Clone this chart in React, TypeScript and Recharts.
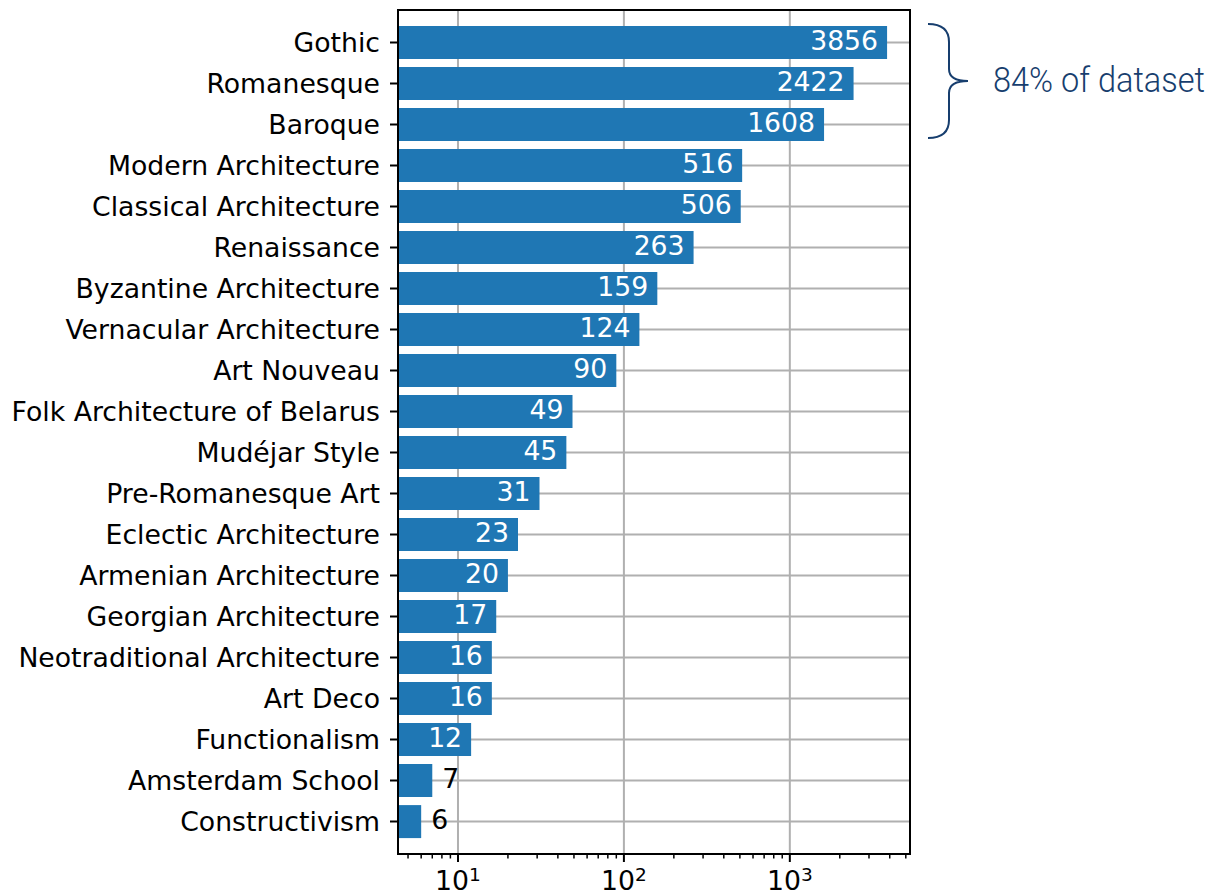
import React from 'react';
import { BarChart, Bar, XAxis, YAxis, CartesianGrid, LabelList } from 'recharts';

const styles = [
  'Gothic',
  'Romanesque',
  'Baroque',
  'Modern Architecture',
  'Classical Architecture',
  'Renaissance',
  'Byzantine Architecture',
  'Vernacular Architecture',
  'Art Nouveau',
  'Folk Architecture of Belarus',
  'Mudéjar Style',
  'Pre-Romanesque Art',
  'Eclectic Architecture',
  'Armenian Architecture',
  'Georgian Architecture',
  'Neotraditional Architecture',
  'Art Deco',
  'Functionalism',
  'Amsterdam School',
  'Constructivism',
];
const counts = [3856, 2422, 1608, 516, 506, 263, 159, 124, 90, 49, 45, 31, 23, 20, 17, 16, 16, 12, 7, 6];

const majorTicks = [10, 100, 1000];
const allTicks = [
  5, 6, 7, 8, 9, 10,
  20, 30, 40, 50, 60, 70, 80, 90, 100,
  200, 300, 400, 500, 600, 700, 800, 900, 1000,
  2000, 3000, 4000, 5000,
];
const xDomain = [4.35, 5300];
const noteText = '84% of dataset';

const data = styles.map((name, i) => ({ name, count: counts[i] }));

const FONT = 'DejaVu Sans';
const FS = 26.7;
const BLUE = '#1f77b4';
const NOTE = '#173e6e';
const Y_PAD = 12;

// plot box (chart margins + axis sizes)
const LEFT = 398;
const TOP = 10;
const RIGHT = 910;
const BOTTOM = 854;

const LogTick = (props: any) => {
  const { x, y, payload } = props;
  const v = payload.value;
  const major = majorTicks.includes(v);
  const exp = Math.round(Math.log10(v));
  return (
    <g>
      <line x1={x} x2={x} y1={y} y2={y + (major ? 8 : 4.5)} stroke="#000" strokeWidth={major ? 2 : 1.5} />
      {major && (
        <text x={x} y={y + 36} textAnchor="middle" fontFamily={FONT} fontSize={FS} fill="#000">
          10<tspan dy={-9} fontSize={18.5}>{exp}</tspan>
        </text>
      )}
    </g>
  );
};

const ValueLabel = (props: any) => {
  const { x, y, width, height, value } = props;
  const inside = value >= 10;
  return (
    <text
      x={inside ? x + width - 9 : x + width + 10}
      y={y + height / 2 + 7.5}
      textAnchor={inside ? 'end' : 'start'}
      fill={inside ? '#fff' : '#000'}
      fontFamily={FONT}
      fontSize={FS}
    >
      {value}
    </text>
  );
};

// grid rows at the centre of every category band
const rowCenters = ({ yAxis, offset }: any) => {
  const s = yAxis && yAxis.scale;
  if (typeof s === 'function' && typeof s.bandwidth === 'function') {
    return styles.map(n => s(n) + s.bandwidth() / 2);
  }
  if (s && typeof s.map === 'function' && typeof s.bandwidth === 'function') {
    return styles.map(n => s.map(n) + s.bandwidth() / 2);
  }
  const band = (offset.height - 2 * Y_PAD) / styles.length;
  return styles.map((_, i) => offset.top + Y_PAD + band * (i + 0.5));
};

export default function App() {
  return (
    <div style={{ position: 'absolute', left: 0, top: 0, width: 1214, height: 894, background: '#fff' }}>
      <BarChart
        layout="vertical"
        width={1214}
        height={894}
        data={data}
        margin={{ top: TOP, right: 1214 - RIGHT, bottom: 0, left: 0 }}
        barCategoryGap="10%"
      >
        <CartesianGrid
          stroke="#b0b0b0"
          strokeWidth={2}
          verticalValues={majorTicks}
          horizontalCoordinatesGenerator={rowCenters}
        />
        <XAxis
          type="number"
          dataKey="count"
          scale="log"
          domain={xDomain}
          allowDataOverflow
          ticks={allTicks}
          interval={0}
          tick={<LogTick />}
          tickLine={false}
          tickSize={0}
          tickMargin={0}
          height={894 - BOTTOM}
          axisLine={{ stroke: '#000', strokeWidth: 2 }}
        />
        <YAxis
          type="category"
          dataKey="name"
          width={LEFT}
          interval={0}
          padding={{ top: Y_PAD, bottom: Y_PAD }}
          tickSize={8}
          tickMargin={10}
          tickLine={{ stroke: '#000', strokeWidth: 2 }}
          axisLine={{ stroke: '#000', strokeWidth: 2 }}
          tick={{ fill: '#000', fontSize: FS, fontFamily: FONT }}
        />
        <Bar dataKey="count" fill={BLUE} isAnimationActive={false}>
          <LabelList dataKey="count" content={<ValueLabel />} />
        </Bar>
      </BarChart>
      <svg
        width={1214}
        height={894}
        style={{ position: 'absolute', left: 0, top: 0, pointerEvents: 'none' }}
      >
        <rect x={LEFT} y={TOP} width={RIGHT - LEFT} height={BOTTOM - TOP} fill="none" stroke="#000" strokeWidth={2} />
        <path
          d="M 928 24 C 942 24, 949 30, 949 42 L 949 69 C 949 77, 955 81, 968 81 C 955 81, 949 85, 949 93 L 949 120 C 949 132, 942 138, 928 138"
          fill="none"
          stroke={NOTE}
          strokeWidth={2}
        />
        <text
          x={993}
          y={92}
          fontFamily="Roboto"
          fontWeight={300}
          fontSize={35}
          fill={NOTE}
          textLength={212}
          lengthAdjust="spacingAndGlyphs"
        >
          {noteText}
        </text>
      </svg>
    </div>
  );
}
